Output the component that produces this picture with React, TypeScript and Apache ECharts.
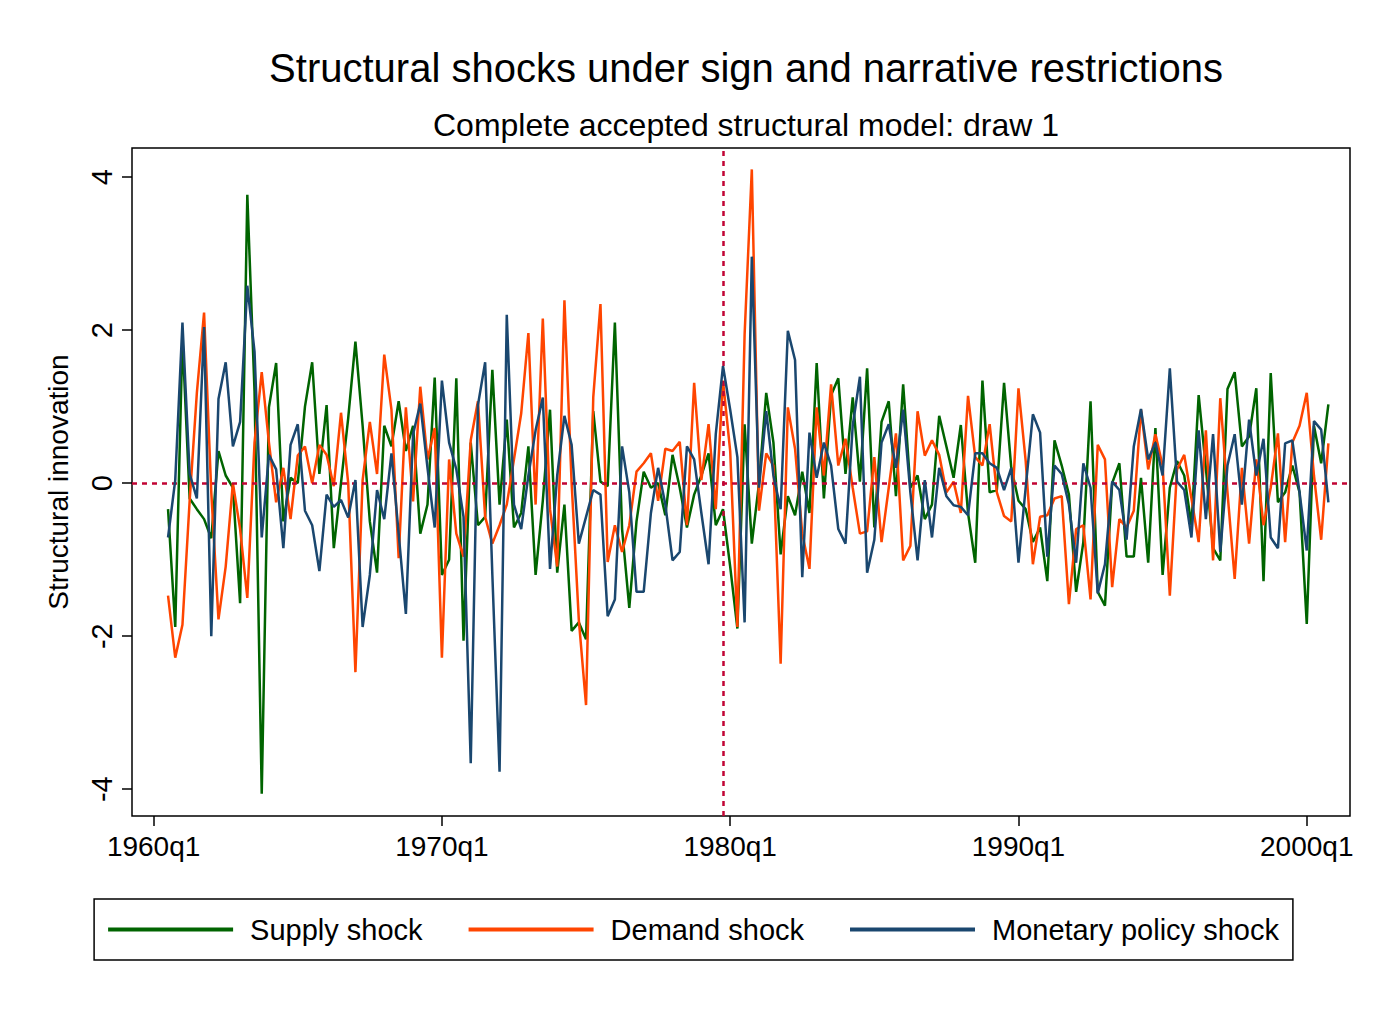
import React, { useEffect, useRef } from "react";
import * as echarts from "echarts";

// quarter index: 0 = 1960q1; data run 1960q3..2000q4
const startIndex = 2;
const tickQuarters = [0, 40, 80, 120, 160];
const yTicks = [-4, -2, 0, 2, 4];
const narrativeQuarter = 79; // 1979q4

const supply: number[] = [
  -0.34, -1.88, 1.9, -0.2, -0.34, -0.47, -0.72, 0.42, 0.1, -0.06, -1.57, 3.77, 1.2, -4.06, 0.99, 1.57, -0.5, 0.07, 0, 1.0,
  1.58, 0.12, 1.02, -0.85, 0, 0.85, 1.85, 0.75, -0.5, -1.17, 0.75, 0.48, 1.07, 0.42, 0.75, -0.66, -0.28, 1.38, -1.2, -1.0, 1.37,
  -2.06, 0.53, -0.55, -0.44, 1.48, -0.28, 0.83, -0.58, -0.39, 0.48, -1.2, -0.23, 0.96, -1.17, -0.28, -1.93, -1.82, -2.04, 0.94, 0.02, -0.04,
  2.1, -0.6, -1.63, -0.5, 0.15, -0.06, 0, -0.42, 0.37, -0.06, -0.58, -0.15, 0.1, 0.39, -0.55, -0.34, -1.09, -1.9, 0.77, -0.79,
  0, 1.18, 0.53, -0.93, -0.17, -0.42, 0.15, -0.39, 1.57, -0.2, 1.15, 1.37, 0.12, 1.12, 0.02, 1.5, -0.58, 0.8, 1.07, -0.17, 1.29,
  -0.06, 0.1, -0.47, -0.28, 0.88, 0.48, 0.07, 0.76, -0.39, -1.04, 1.34, -0.12, -0.09, 1.31, 0.2, -0.23, -0.34, -0.77, -0.58, -1.28, 0.56,
  0.23, -0.15, -1.42, -0.77, 1.07, -1.42, -1.6, 0, 0.26, -0.96, -0.96, 0.07, -1.04, 0.72, -1.2, -0.06, 0.29, 0.1, -0.55, 1.15, 0.2,
  -0.85, -1.01, 1.23, 1.45, 0.48, 0.61, 1.24, -1.28, 1.44, -0.25, -0.12, 0.23, -0.12, -1.84, 0.75, 0.26, 1.03,
];

const demand: number[] = [
  -1.47, -2.28, -1.85, -0.23, 1.18, 2.23, -0.12, -1.78, -1.09, 0, -0.6, -1.5, 0.53, 1.45, 0.53, -0.25, 0.2, -0.47, 0.36, 0.48,
  0, 0.5, 0.37, -0.04, 0.92, 0, -2.47, 0.04, 0.8, 0.12, 1.68, 0.96, -0.98, 0.99, -0.24, 1.26, 0.31, 0.72, -2.28, 0.31, -0.66,
  -0.96, 0.56, 1.07, -0.44, -0.79, -0.55, -0.28, 0.31, 0.91, 1.96, -0.28, 2.15, -0.34, -1.09, 2.39, 0, -1.79, -2.9, 1.12, 2.34, -1.03,
  -0.55, -0.9, -0.55, 0.15, 0.26, 0.39, -0.23, 0.45, 0.42, 0.54, -0.55, 1.31, 0.04, 0.77, -0.34, 1.34, 0.42, -1.88, 1.94, 4.1,
  -0.36, 0.39, 0.23, -2.36, 0.99, 0.45, -0.66, -1.12, 0.99, 0.1, 1.29, 0.23, 0.58, -0.06, -0.66, -0.63, 0.34, -0.77, -0.06, 0.65, -1.01,
  -0.82, 0.94, 0.36, 0.56, 0.37, -0.12, 0.02, -0.39, 1.14, 0.34, 0.23, 0.77, -0.12, -0.43, -0.5, 1.24, 0.29, -1.06, -0.44, -0.42, -0.2,
  -0.17, -1.58, -0.6, -0.55, -1.52, 0.5, 0.31, -1.36, -0.47, -0.58, -0.36, 0.96, 0.18, 0.64, 0.23, -1.47, 0.18, 0.37, -0.2, -0.77, 0.69,
  -1.01, 1.11, -0.12, -1.25, 0.2, -0.79, 0.31, -0.55, -0.06, 0.65, -0.77, 0.53, 0.75, 1.18, 0.1, -0.74, 0.52,
];

const monetary: number[] = [
  -0.71, 0.04, 2.1, 0.12, -0.2, 2.04, -2.0, 1.1, 1.58, 0.48, 0.8, 2.58, 1.72, -0.71, 0.37, 0.18, -0.85, 0.5, 0.77, -0.36,
  -0.55, -1.15, -0.15, -0.31, -0.22, -0.45, 0.04, -1.88, -1.2, -0.09, -0.47, 0.39, -0.66, -1.71, 0.64, 1.04, 0.2, -0.58, 1.34, 0.53, 0.18,
  -0.44, -3.66, 1.02, 1.58, -1.2, -3.77, 2.2, -0.28, -0.6, 0.1, 0.69, 1.12, -1.12, 0.1, 0.88, 0.5, -0.79, -0.44, -0.09, -0.15, -1.74,
  -1.52, 0.48, -0.12, -1.42, -1.42, -0.39, 0.2, -0.28, -1.01, -0.9, 0.48, 0.31, -0.39, -1.06, 0.64, 1.53, 0.96, 0.34, -1.82, 2.96,
  -0.06, 0.94, 0.1, -0.34, 1.99, 1.61, -1.23, 0.66, 0.07, 0.53, 0.23, -0.6, -0.79, 0.75, 1.39, -1.17, -0.74, 0.53, 0.77, 0.2, 0.96,
  -0.12, -1.01, 0.04, -0.71, 0.2, -0.17, -0.29, -0.31, -0.42, 0.39, 0.39, 0.26, 0.2, -0.09, 0.2, -1.04, -0.06, 0.9, 0.66, -0.96, 0.23,
  0.12, -0.28, -1.04, 0.26, -0.06, -1.44, -1.06, 0.02, -0.09, -0.74, 0.48, 0.97, 0.31, 0.53, 0.1, 1.5, 0.02, -0.09, -0.71, 0.69, -0.47,
  0.64, -0.9, 0.23, 0.64, -0.28, 0.83, 0.1, 0.58, -0.71, -0.85, 0.52, 0.56, -0.12, -0.88, 0.81, 0.7, -0.25,
];

const FONT = "'Liberation Sans Narrow', 'Liberation Sans', Arial, sans-serif";
const REF = "#c10534";

const App: React.FC = () => {
  const chartRef = useRef<HTMLDivElement | null>(null);

  useEffect(() => {
    document.body.style.margin = "0";
    if (!chartRef.current) return;
    const chart = echarts.init(chartRef.current, undefined, { renderer: "svg" });

    const toPairs = (vals: number[]) => vals.map((v, i) => [startIndex + i, v]);
    const line = (name: string, vals: number[], color: string) => ({
      name,
      type: "line" as const,
      data: toPairs(vals),
      symbol: "none",
      lineStyle: { color, width: 2.5 },
      itemStyle: { color },
    });

    const option: echarts.EChartsOption = {
      animation: false,
      backgroundColor: "#fff",
      title: [
        {
          text: "Structural shocks under sign and narrative restrictions",
          left: 741,
          top: 43,
          textAlign: "center",
          textStyle: { fontFamily: FONT, fontSize: 40, fontWeight: "normal", color: "#000" },
        },
        {
          text: "Complete accepted structural model: draw 1",
          left: 741,
          top: 104,
          textAlign: "center",
          textStyle: { fontFamily: FONT, fontSize: 32, fontWeight: "normal", color: "#000" },
        },
      ],
      grid: {
        left: 132,
        top: 148,
        width: 1218,
        height: 668,
        show: true,
        borderColor: "#000",
        borderWidth: 1.5,
      },
      xAxis: {
        type: "value",
        min: -3,
        max: 166,
        splitLine: { show: false },
        axisLine: { show: false, onZero: false },
        axisTick: { show: true, length: 10, lineStyle: { color: "#000", width: 1.5 }, customValues: tickQuarters },
        axisLabel: {
          customValues: tickQuarters,
          formatter: (v: number) => `${1960 + v / 4}q1`,
          fontFamily: FONT,
          fontSize: 28,
          color: "#000",
          margin: 16,
        },
      },
      yAxis: {
        type: "value",
        min: -4.35,
        max: 4.38,
        name: "Structural innovation",
        nameLocation: "middle",
        nameGap: 60,
        nameTextStyle: { fontFamily: FONT, fontSize: 28, color: "#000" },
        splitLine: { show: false },
        axisLine: { show: false, onZero: false },
        axisTick: { show: true, length: 10, lineStyle: { color: "#000", width: 1.5 }, customValues: yTicks },
        axisLabel: {
          customValues: yTicks,
          rotate: 90,
          fontFamily: FONT,
          fontSize: 29,
          color: "#000",
          margin: 16,
        },
      },
      legend: {
        bottom: 49,
        left: "center",
        itemWidth: 125,
        itemHeight: 4,
        itemGap: 46,
        icon: "rect",
        padding: [16, 14, 16, 14],
        borderColor: "#000",
        borderWidth: 1.5,
        textStyle: { fontFamily: FONT, fontSize: 29, color: "#000", padding: [0, 0, 0, 12] },
        data: ["Supply shock", "Demand shock", "Monetary policy shock"],
      },
      series: [
        {
          ...line("Supply shock", supply, "#006400"),
          z: 3,
          markLine: {
            silent: true,
            symbol: "none",
            label: { show: false },
            lineStyle: { color: REF, type: [5, 5], width: 2.5 },
            data: [{ yAxis: 0 }, { xAxis: narrativeQuarter }],
          },
        },
        { ...line("Demand shock", demand, "#ff4500"), z: 4 },
        { ...line("Monetary policy shock", monetary, "#1a476f"), z: 5 },
      ],
    };

    chart.setOption(option);
    return () => {
      chart.dispose();
    };
  }, []);

  return <div ref={chartRef} style={{ width: "1387px", height: "1009px" }} />;
};

export default App;
